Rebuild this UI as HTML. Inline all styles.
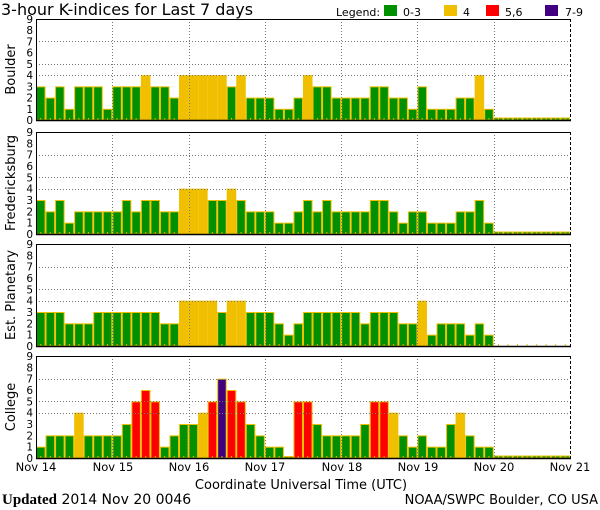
<!DOCTYPE html>
<html><head><meta charset="utf-8"><style>
body{margin:0;background:#fff;}
svg{display:block;font-family:"DejaVu Sans","Liberation Sans",sans-serif;}
</style></head><body>
<svg id="s" width="600" height="510" xmlns="http://www.w3.org/2000/svg">
<text x="1" y="15" font-size="16" fill="#000">3-hour K-indices for Last 7 days</text>
<text x="336" y="16" font-size="11" fill="#000">Legend:</text>
<rect x="384" y="5" width="13" height="11" fill="#009000"/>
<text x="403" y="16" font-size="11">0-3</text>
<rect x="444" y="5" width="13" height="11" fill="#f0c000"/>
<text x="463" y="16" font-size="11">4</text>
<rect x="486" y="5" width="13" height="11" fill="#ff0000"/>
<text x="505" y="16" font-size="11">5,6</text>
<rect x="545" y="5" width="13" height="11" fill="#400080"/>
<text x="565" y="16" font-size="11">7-9</text>
<g id="g"></g>
<g font-size="11.5" text-anchor="middle">
<text x="36" y="471">Nov 14</text><text x="113" y="471">Nov 15</text><text x="189" y="471">Nov 16</text><text x="265" y="471">Nov 17</text><text x="342" y="471">Nov 18</text><text x="418" y="471">Nov 19</text><text x="494" y="471">Nov 20</text><text x="570" y="471">Nov 21</text>
</g>
<text x="301" y="489" font-size="13" text-anchor="middle">Coordinate Universal Time (UTC)</text>
<text x="2" y="504" font-size="14"><tspan font-family="Liberation Serif,serif" font-weight="bold" font-size="15">Updated</tspan> 2014 Nov 20 0046</text>
<text x="598" y="504" font-size="13" text-anchor="end">NOAA/SWPC Boulder, CO USA</text>
</svg>
<script>
var P=[
{n:"Boulder",t:19,b:120,z:true,d:[3,2,3,1,3,3,3,1,3,3,3,4,3,3,2,4,4,4,4,4,3,4,2,2,2,1,1,2,4,3,3,2,2,2,2,3,3,2,2,1,3,1,1,1,2,2,4,1]},
{n:"Fredericksburg",t:132,b:234,z:true,d:[3,2,3,1,2,2,2,2,2,3,2,3,3,2,2,4,4,4,3,3,4,3,2,2,2,1,1,2,3,2,3,2,2,2,2,3,3,2,1,2,2,1,1,1,2,2,3,1]},
{n:"Est. Planetary",t:244,b:346,z:false,d:[3,3,3,2,2,2,3,3,3,3,3,3,3,2,2,4,4,4,4,3,4,4,3,3,3,2,1,2,3,3,3,3,3,3,2,3,3,3,2,2,4,1,2,2,2,1,2,1]},
{n:"College",t:356,b:458,z:true,d:[1,2,2,2,4,2,2,2,2,3,5,6,5,1,2,3,3,4,5,7,6,5,3,2,1,1,0,5,5,3,2,2,2,2,3,5,5,4,2,1,2,1,1,3,4,2,1,1]}];
var x0=36,x1=570,w=(x1-x0)/56,h='';
function col(k){return k<=3?'#009000':k==4?'#f0c000':k<=6?'#ff0000':'#400080';}
P.forEach(function(p){
 var u=(p.b-p.t)/9;
 for(var i=0;i<56;i++){
  var bx=x0+i*w;
  if(i<48){var k=p.d[i];var hh=k==0?2:k*u;
   h+='<rect x="'+(bx+0.5)+'" y="'+(p.b-hh+0.5)+'" width="'+(w-1)+'" height="'+(hh-0.5)+'" fill="'+col(k)+'" stroke="#f0c000" stroke-width="1"/>';}
  else if(p.z){h+='<rect x="'+(bx+0.5)+'" y="'+(p.b-2)+'" width="'+(w-1)+'" height="2" fill="#009000" stroke="#f0c000" stroke-width="1"/>';}
  h+='<line x1="'+(bx+w/2)+'" x2="'+(bx+w/2)+'" y1="'+(p.b-2)+'" y2="'+p.b+'" stroke="#f0c000"/>';
 }
 [4,5,7].forEach(function(k){var y=Math.round(p.b-k*u)+0.5;h+='<line x1="'+x0+'" x2="'+x1+'" y1="'+y+'" y2="'+y+'" stroke="#777" stroke-dasharray="1,2"/>';});
 for(var d=1;d<7;d++){var x=Math.round(x0+d*8*w)+0.5;h+='<line x1="'+x+'" x2="'+x+'" y1="'+p.t+'" y2="'+p.b+'" stroke="#777" stroke-dasharray="1,2"/>';}
 h+='<line x1="'+x0+'" x2="'+x1+'" y1="'+(p.t+0.5)+'" y2="'+(p.t+0.5)+'" stroke="#000"/>';
 h+='<line x1="'+x0+'" x2="'+(x1+1)+'" y1="'+(p.b+0.5)+'" y2="'+(p.b+0.5)+'" stroke="#000" stroke-width="1.5"/>';
 h+='<line x1="'+(x0+0.5)+'" x2="'+(x0+0.5)+'" y1="'+p.t+'" y2="'+p.b+'" stroke="#000"/>';
 h+='<line x1="'+(x1+0.5)+'" x2="'+(x1+0.5)+'" y1="'+p.t+'" y2="'+p.b+'" stroke="#000" stroke-dasharray="3,2"/>';
 for(var k=0;k<=9;k++){h+='<text x="33" y="'+(p.b-k*u+4)+'" font-size="10.5" text-anchor="end">'+k+'</text>';}
 var cy=(p.t+p.b)/2;
 h+='<text transform="translate(15,'+cy+') rotate(-90)" font-size="13" text-anchor="middle">'+p.n+'</text>';
});
document.getElementById('g').innerHTML=h;
</script>
</body></html>
